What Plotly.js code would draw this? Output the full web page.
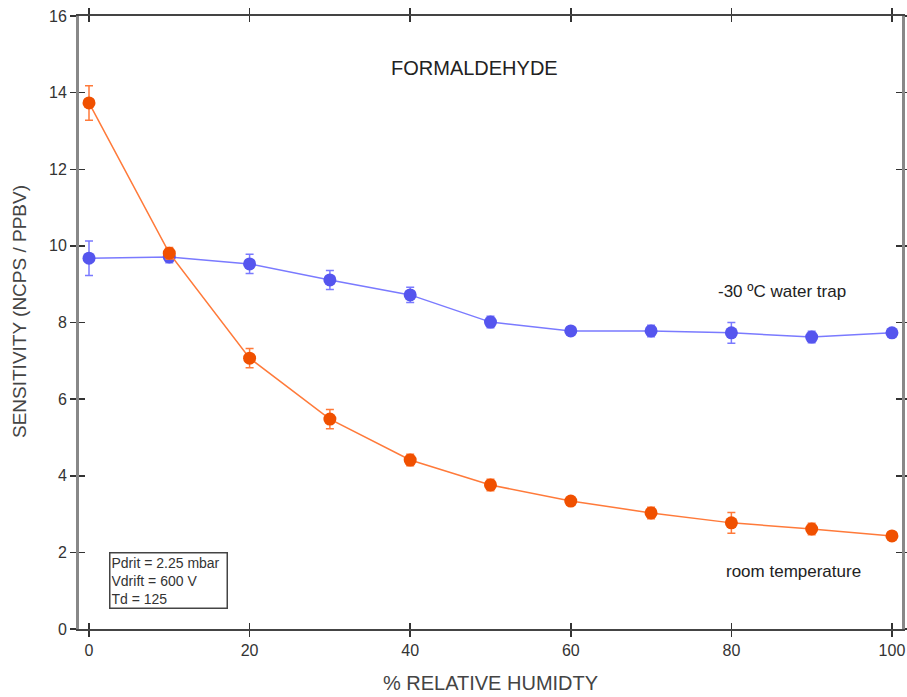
<!DOCTYPE html>
<html>
<head>
<meta charset="utf-8">
<script src="https://cdn.plot.ly/plotly-3.0.1.min.js"></script>
<style>html,body{margin:0;padding:0;background:#fff;}#chart{width:907px;height:697px;}</style>
</head>
<body>
<div id="chart"></div>
<script>
// Data
const humidity = [0, 10, 20, 30, 40, 50, 60, 70, 80, 90, 100];
const trapSensitivity = [9.68, 9.71, 9.53, 9.11, 8.72, 8.01, 7.78, 7.78, 7.73, 7.62, 7.73];
const trapError = [0.45, 0.15, 0.25, 0.25, 0.2, 0.15, 0.1, 0.15, 0.27, 0.15, 0.1];
const roomSensitivity = [13.73, 9.81, 7.07, 5.48, 4.41, 3.76, 3.34, 3.03, 2.77, 2.61, 2.43];
const roomError = [0.45, 0.15, 0.25, 0.25, 0.15, 0.15, 0.1, 0.15, 0.27, 0.15, 0.1];
const xTicks = [0, 20, 40, 60, 80, 100];
const yTicks = [0, 2, 4, 6, 8, 10, 12, 14, 16];

const font = 'Liberation Sans, Arial, sans-serif';

const traces = [
  {
    x: humidity, y: trapSensitivity, type: 'scatter', mode: 'lines+markers',
    name: '-30 °C water trap',
    line: {color: '#7a7aff', width: 1.5},
    marker: {color: '#5555ee', size: 13},
    error_y: {type: 'data', array: trapError, visible: true, color: '#7a7aff', thickness: 1.5, width: 4},
    cliponaxis: false
  },
  {
    x: humidity, y: roomSensitivity, type: 'scatter', mode: 'lines+markers',
    name: 'room temperature',
    line: {color: '#ff7a3a', width: 1.5},
    marker: {color: '#f05000', size: 13},
    error_y: {type: 'data', array: roomError, visible: true, color: '#ff7a3a', thickness: 1.5, width: 4},
    cliponaxis: false
  },
  {x: [], y: [], xaxis: 'x2', yaxis: 'y2', showlegend: false, hoverinfo: 'skip'}
];

const xr = [-1.245, 101.25];
const yr = [0, 16];
const pw = 907 - 79 - 5, ph = 697 - 16 - 68;

const layout = {
  width: 907, height: 697,
  margin: {l: 79, r: 5, t: 16, b: 68},
  paper_bgcolor: '#fff', plot_bgcolor: '#fff',
  showlegend: false,
  font: {family: font, color: '#333', size: 16},
  xaxis: {
    range: xr, tickvals: xTicks, ticktext: xTicks.map(String),
    showgrid: false, zeroline: false,
    showline: true, linecolor: '#444', linewidth: 2, mirror: 'ticks',
    ticks: 'outside', ticklen: 6, tickwidth: 1.5, tickcolor: '#333',
    tickfont: {size: 16, color: '#333'},
    title: {text: '% RELATIVE HUMIDTY', font: {size: 20, color: '#444'}, standoff: 18}
  },
  yaxis: {
    range: yr, tickvals: yTicks, ticktext: yTicks.map(String),
    showgrid: false, zeroline: false,
    showline: true, linecolor: '#888', linewidth: 3, mirror: 'ticks',
    ticks: 'outside', ticklen: 6, tickwidth: 1.5, tickcolor: '#333',
    tickfont: {size: 16, color: '#333'}
  },
  xaxis2: {
    range: xr, overlaying: 'x', anchor: 'y2', tickvals: xTicks,
    showticklabels: false, showgrid: false, zeroline: false, showline: false,
    ticks: 'inside', ticklen: 6, tickwidth: 1.5, tickcolor: '#333', mirror: 'ticks'
  },
  yaxis2: {
    range: yr, overlaying: 'y', anchor: 'x2', tickvals: yTicks,
    showticklabels: false, showgrid: false, zeroline: false, showline: false,
    ticks: 'inside', ticklen: 6, tickwidth: 1.5, tickcolor: '#333', mirror: 'ticks'
  },
  annotations: [
    {x: 48, y: 14.65, xref: 'x', yref: 'y', text: 'FORMALDEHYDE', showarrow: false,
     font: {size: 20, color: '#222'}},
    {x: 86.3, y: 8.8, xref: 'x', yref: 'y', text: '-30 ºC water trap', showarrow: false,
     font: {size: 17, color: '#222'}},
    {x: 87.7, y: 1.5, xref: 'x', yref: 'y', text: 'room temperature', showarrow: false,
     font: {size: 17, color: '#222'}},
    {x: (109 - 79) / pw, y: (629 - 552) / ph, xref: 'paper', yref: 'paper',
     text: 'Pdrit = 2.25 mbar<br>Vdrift = 600 V<br>Td = 125',
     showarrow: false, align: 'left', xanchor: 'left', yanchor: 'top',
     font: {size: 14, color: '#333'}, bordercolor: '#444', borderwidth: 1.5, borderpad: 1, bgcolor: '#fff',
     width: 114},
    {x: (19 - 79) / pw, y: (629 - 312) / ph, xref: 'paper', yref: 'paper',
     text: 'SENSITIVITY (NCPS / PPBV)', textangle: -90, showarrow: false,
     xanchor: 'center', yanchor: 'middle', font: {size: 19, color: '#444'}}
  ]
};

Plotly.newPlot('chart', traces, layout, {displayModeBar: false, staticPlot: true});
</script>
</body>
</html>
